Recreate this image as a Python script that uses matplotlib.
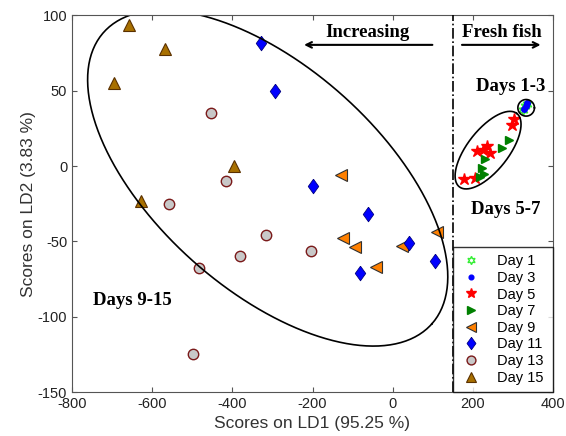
import numpy as np
import matplotlib.pyplot as plt

plt.rcParams['axes.unicode_minus'] = False

# LDA scores (LD1, LD2)
day1_x = [326, 331, 336]
day1_y = [37, 40, 41]
day3_x = [328, 333, 335]
day3_y = [38, 40, 42]
day5_x = [303, 297, 235, 210, 242, 225, 177, 206]
day5_y = [31, 27.5, 13.5, 10, 9, 11, -8.5, -8]
day7_x = [291, 272, 231, 222, 229, 218]
day7_y = [17, 12, 4.5, -1, -5.5, -7]
day9_x = [-128, -125, -94, -42, 24, 110]
day9_y = [-6, -48, -54, -67, -53, -44]
day11_x = [-329, -293, -198, -61, 41, 106, -82]
day11_y = [82, 50, -13, -32, -51, -63, -71]
day13_x = [-452, -415, -557, -317, -382, -484, -204, -498]
day13_y = [35.5, -10, -25, -45.5, -60, -67.5, -56.5, -125]
day15_x = [-659, -567, -694, -397, -629]
day15_y = [94, 78, 55.5, 0, -23]

W, H = 566, 436
fig = plt.figure(figsize=(W / 100, H / 100), dpi=100)
ax = fig.add_axes([72 / W, 1 - 392 / H, 481 / W, 376.5 / H])

diamond = [(0, 1), (0.72, 0), (0, -1), (-0.72, 0), (0, 1)]

ax.plot(day1_x, day1_y, ls='none', marker=(6, 1, 0), ms=7, mfc='white', mec='#33ee33', mew=1, label='Day 1')
ax.plot(day3_x, day3_y, ls='none', marker='o', ms=4, mfc='#0000ff', mec='#0000ff', label='Day 3')
ax.plot(day5_x, day5_y, ls='none', marker='*', ms=9, mfc='#ff0000', mec='#ff0000', label='Day 5')
ax.plot(day7_x, day7_y, ls='none', marker='>', ms=6, mfc='#008000', mec='#008000', label='Day 7')
ax.plot(day9_x, day9_y, ls='none', marker='<', ms=8.5, mfc='#ff8000', mec='#303030', mew=0.8, label='Day 9')
ax.plot(day11_x, day11_y, ls='none', marker=diamond, ms=10.5, mfc='#0000ff', mec='#000080', mew=0.6, label='Day 11')
ax.plot(day13_x, day13_y, ls='none', marker='o', ms=7.5, mfc='#c8c8c8', mec='#7a1a1a', mew=1, label='Day 13')
ax.plot(day15_x, day15_y, ls='none', marker='^', ms=9, mfc='#a87000', mec='#5a3000', mew=0.8, label='Day 15')

ax.set_xlim(-800, 400)
ax.set_ylim(-150, 100)
ax.set_xticks(range(-800, 401, 200))
ax.set_yticks(range(-150, 101, 50))

# pixels per data unit, used to draw ellipses that look right on screen
sx = 481 / 1200
sy = 376.5 / 250


def ellipse(cx, cy, a, b, ang, **kw):
    t = np.linspace(0, 2 * np.pi, 300)
    th = np.deg2rad(ang)
    u = a * np.cos(t) * np.cos(th) - b * np.sin(t) * np.sin(th)
    v = a * np.cos(t) * np.sin(th) + b * np.sin(t) * np.cos(th)
    ax.plot(cx + u / sx, cy + v / sy, color='black', lw=1.2, **kw)


ellipse(-311.75, -8, 219.5, 111.6, -41.6)
ellipse(238, 10.6, 46.6, 20.5, 51.9)
ellipse(333, 38.7, 8.3, 8.3, 0)

ax.axvline(150, color='black', ls='-.', lw=1.2, zorder=4)

bold = dict(family='Liberation Serif', weight='bold', fontsize=13.5)
ax.text(-62, 88.5, 'Increasing', ha='center', va='center', **bold)
ax.text(273, 88.5, 'Fresh fish', ha='center', va='center', **bold)
ax.text(294, 53, 'Days 1-3', ha='center', va='center', **bold)
ax.text(281, -29, 'Days 5-7', ha='center', va='center', **bold)
ax.text(-650, -89, 'Days 9-15', ha='center', va='center', **bold)
ax.annotate('', xy=(-228, 80.5), xytext=(106, 80.5),
            arrowprops=dict(arrowstyle='->', color='black', lw=1.5))
ax.annotate('', xy=(376, 80.5), xytext=(166, 80.5),
            arrowprops=dict(arrowstyle='->', color='black', lw=1.5))

for s in ax.spines.values():
    s.set_color('#555555')
ax.tick_params(direction='in', top=True, right=True, colors='#555555',
               labelcolor='#222222', labelsize=10.5)
for lab in ax.get_xticklabels() + ax.get_yticklabels():
    lab.set_family('Liberation Sans')

ax.set_xlabel('Scores on LD1 (95.25 %)', family='Liberation Sans', fontsize=12.5, color='#333333', labelpad=4)
ax.set_ylabel('Scores on LD2 (3.83 %)', family='Liberation Sans', fontsize=12.5, color='#333333', labelpad=1)

x0 = (150 - ax.get_xlim()[0]) / (ax.get_xlim()[1] - ax.get_xlim()[0])
leg = ax.legend(loc='lower left', bbox_to_anchor=(x0, 0, 1 - x0, 0.4), mode='expand',
                borderaxespad=0, fancybox=False, edgecolor='black',
                prop={'family': 'Liberation Sans', 'size': 10.5}, labelspacing=0.18,
                handlelength=1.5, handletextpad=1.0, borderpad=0.5, markerscale=0.85)
leg.get_frame().set_linewidth(1.0)

fig.savefig('out.png', dpi=100)
